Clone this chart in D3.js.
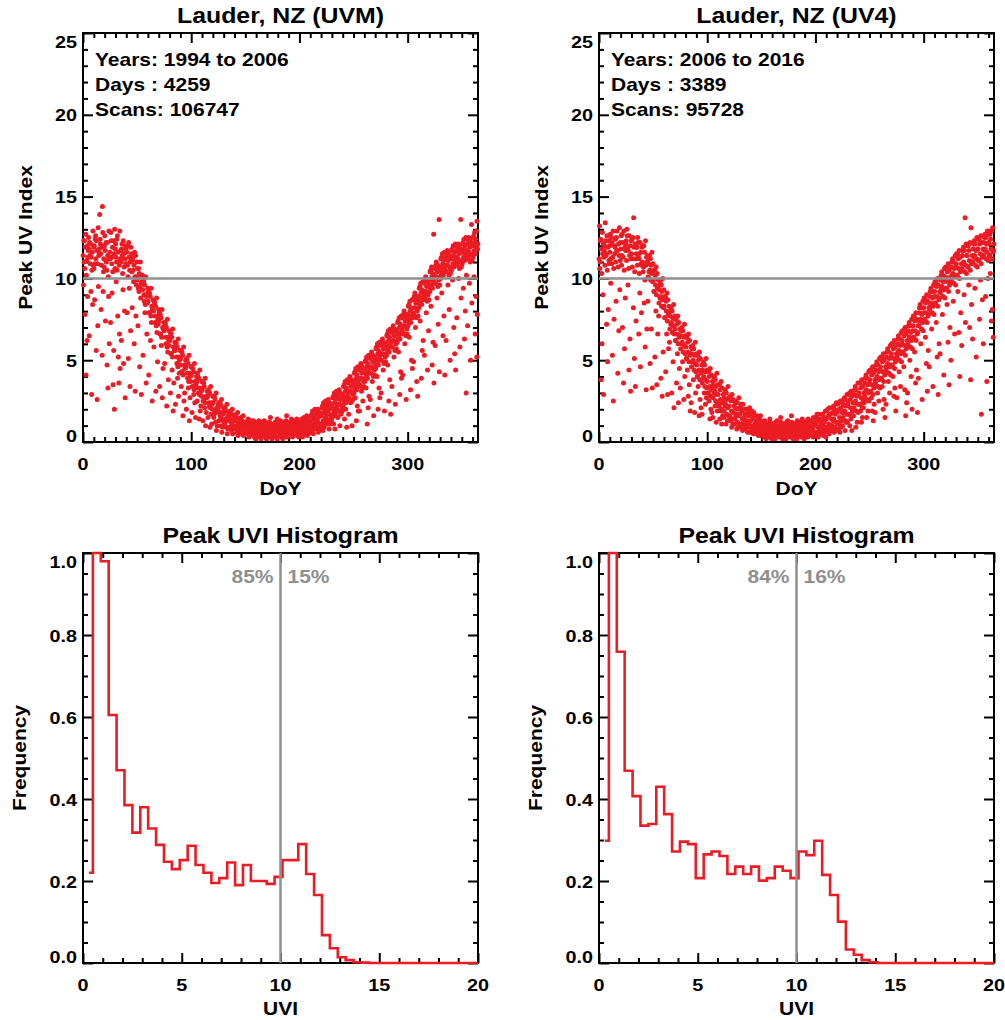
<!DOCTYPE html>
<html>
<head>
<meta charset="utf-8">
<script src="https://cdn.jsdelivr.net/npm/d3@7"></script>
<style>
  body { margin: 0; background: #fff; }
  svg text { font-family: "Liberation Sans", Arial, Helvetica, sans-serif; font-weight: bold; }
</style>
</head>
<body>
<svg id="chart"></svg>
<script>
// ---- data ----

// 5-day DoY strips; each entry of the peak arrays lists the values seen in that strip
const doyBins = d3.range(0, 365, 5);

const uvmPeak = [
  [11.4, 9.6, 12.3, 11.0, 12.3, 10.6, 7.8, 11.9, 12.7, 4.1, 10.2, 11.1, 6.2, 12.0, 8.9, 11.3, 11.7],
  [12.5, 11.8, 6.5, 12.2, 11.4, 10.9, 12.1, 9.2, 11.3, 2.9, 10.5, 11.6, 8.4, 12.9, 10.8, 11.9],
  [10.6, 12.0, 8.7, 10.9, 12.4, 12.6, 11.2, 5.6, 12.3, 11.7, 2.6, 10.9, 7.1, 13.1, 9.5, 11.4, 11.8],
  [11.5, 13.9, 12.4, 12.1, 11.5, 8.1, 10.8, 11.9, 5.3, 14.4, 12.8, 9.2, 10.4, 11.2, 10.7, 12.0],
  [12.6, 11.7, 7.4, 11.1, 12.2, 11.0, 10.5, 4.7, 12.2, 11.4, 3.3, 10.1, 8.9, 12.9, 6.0, 11.2, 11.6],
  [11.2, 7.3, 12.8, 12.3, 11.3, 10.9, 9.1, 11.9, 10.4, 3.5, 12.3, 5.6, 11.5, 2.0, 13.0, 10.6, 11.8],
  [12.1, 11.3, 9.8, 11.0, 12.4, 10.5, 12.6, 7.7, 11.6, 5.2, 11.0, 3.6, 10.8, 6.6, 12.9, 4.5, 11.2, 11.7],
  [11.0, 6.2, 11.8, 12.1, 11.4, 10.3, 9.3, 12.3, 4.8, 11.5, 10.7, 8.0, 11.2, 2.7, 12.0, 10.9, 11.8],
  [10.9, 11.6, 7.9, 10.8, 12.0, 10.1, 5.1, 12.2, 11.3, 9.4, 10.5, 3.4, 11.0, 6.8, 11.9, 11.1, 11.5],
  [10.4, 8.2, 11.1, 11.3, 10.5, 9.8, 10.8, 6.0, 11.6, 10.1, 3.1, 11.4, 7.7, 9.6, 10.1, 11.0],
  [9.9, 10.6, 7.1, 9.4, 10.6, 9.2, 10.3, 4.6, 9.5, 11.0, 8.8, 9.7, 2.9, 10.1, 9.8, 10.2],
  [9.3, 5.3, 9.9, 9.8, 9.0, 8.6, 9.6, 7.9, 8.4, 10.1, 9.0, 3.6, 8.9, 6.6, 9.0, 8.5, 9.4],
  [8.6, 9.2, 4.1, 7.9, 9.1, 7.9, 8.9, 6.2, 7.7, 9.4, 7.3, 8.3, 2.5, 8.1, 8.2, 8.7],
  [8.0, 5.8, 8.6, 8.5, 7.7, 7.3, 8.3, 3.1, 7.1, 8.8, 6.7, 7.7, 4.9, 7.5, 7.2, 8.1],
  [7.4, 7.9, 3.4, 6.6, 7.8, 6.6, 7.6, 5.9, 6.4, 8.1, 2.7, 7.0, 4.5, 6.9, 6.9, 7.3],
  [6.8, 4.8, 7.3, 7.2, 6.4, 6.0, 7.0, 2.2, 5.8, 7.5, 5.5, 6.4, 3.8, 6.2, 5.9, 6.8],
  [6.2, 6.7, 3.0, 5.4, 6.6, 5.4, 6.4, 4.4, 5.2, 6.9, 1.9, 5.8, 3.6, 5.6, 5.7, 6.1],
  [5.6, 2.3, 6.1, 6.0, 5.2, 4.8, 5.8, 3.9, 4.6, 6.3, 2.8, 5.2, 4.2, 5.0, 4.7, 5.6],
  [5.1, 5.6, 3.4, 4.3, 5.5, 4.3, 5.3, 1.6, 4.1, 5.8, 2.5, 4.7, 3.0, 4.5, 4.6, 5.0],
  [4.6, 2.0, 5.1, 5.0, 4.2, 3.9, 4.8, 3.3, 3.7, 5.3, 1.3, 4.2, 2.7, 4.0, 3.7, 4.6],
  [4.1, 4.6, 1.8, 3.4, 4.5, 3.4, 4.3, 2.9, 3.2, 4.8, 2.4, 3.7, 1.5, 3.5, 3.6, 4.0],
  [3.7, 2.5, 4.2, 4.0, 3.3, 3.0, 3.9, 1.4, 2.9, 4.4, 1.9, 3.3, 2.2, 3.1, 2.8, 3.7],
  [3.2, 3.7, 1.3, 2.5, 3.6, 2.6, 3.4, 2.1, 2.4, 3.9, 1.0, 2.8, 1.8, 2.7, 2.8, 3.1],
  [2.8, 1.5, 3.2, 3.1, 2.4, 2.2, 3.0, 0.9, 2.1, 3.4, 1.7, 2.4, 1.1, 2.3, 2.0, 2.8],
  [2.4, 2.8, 1.5, 1.7, 2.8, 1.9, 2.6, 1.2, 1.8, 3.0, 0.7, 2.1, 1.0, 2.0, 2.0, 2.3],
  [2.1, 1.3, 2.4, 2.4, 1.8, 1.6, 2.3, 1.0, 1.5, 2.6, 0.6, 1.8, 0.9, 1.7, 1.3, 2.1],
  [1.8, 2.1, 1.1, 1.2, 2.1, 1.4, 1.9, 0.9, 1.3, 2.3, 0.5, 1.5, 0.8, 1.6, 1.4, 1.7],
  [1.5, 0.9, 1.8, 1.9, 1.3, 1.2, 1.7, 0.7, 1.1, 2.0, 0.5, 1.3, 1.0, 1.4, 0.9, 1.6],
  [1.3, 1.6, 0.8, 0.8, 1.7, 1.0, 1.5, 0.6, 0.9, 1.8, 0.4, 1.2, 0.7, 1.1, 1.0, 1.3],
  [1.1, 0.6, 1.4, 1.5, 0.9, 0.8, 1.3, 0.5, 0.7, 1.6, 0.4, 1.0, 1.2, 0.9, 0.6, 1.2],
  [0.9, 1.2, 0.6, 0.6, 1.0, 1.1, 0.5, 1.4, 0.8, 0.7, 0.3, 1.0, 0.4, 1.3, 0.8],
  [0.9, 1.1, 0.6, 0.9, 0.5, 1.0, 0.5, 1.3, 0.8, 0.7, 0.3, 1.2, 0.4, 0.2, 1.1],
  [0.8, 1.1, 0.6, 0.7, 1.0, 1.0, 0.4, 1.3, 0.7, 0.9, 0.3, 1.2, 0.5, 0.2, 0.6],
  [0.8, 1.0, 0.5, 1.0, 0.6, 1.1, 0.4, 1.3, 0.7, 0.9, 0.3, 1.2, 0.6, 0.2, 0.8],
  [0.8, 1.0, 0.6, 0.6, 0.9, 0.9, 0.4, 1.2, 0.7, 1.5, 0.3, 1.1, 0.5, 0.2, 1.0],
  [0.7, 1.0, 0.5, 0.9, 0.6, 0.9, 0.4, 1.2, 0.8, 0.6, 0.3, 1.1, 0.2, 1.4, 1.1],
  [0.8, 1.0, 0.6, 0.6, 1.0, 0.9, 0.4, 1.3, 0.7, 1.1, 0.3, 1.2, 0.5, 0.2, 0.8],
  [0.8, 1.1, 0.6, 1.0, 0.6, 1.0, 0.4, 1.3, 0.7, 1.6, 0.3, 1.2, 0.5, 0.9, 0.9],
  [0.9, 1.1, 0.6, 0.7, 1.1, 1.0, 0.5, 1.4, 0.8, 1.2, 0.3, 0.7, 1.3, 0.4, 0.9],
  [0.9, 1.2, 0.7, 1.0, 0.7, 1.1, 0.5, 1.4, 0.8, 1.3, 0.4, 1.0, 0.6, 0.3, 1.2],
  [0.9, 0.5, 1.2, 0.6, 1.2, 0.4, 0.7, 1.4, 1.0, 0.3, 0.6, 1.1, 0.5, 0.8, 1.5, 0.8, 1.0],
  [1.2, 0.5, 0.6, 1.4, 0.8, 1.6, 0.8, 0.4, 1.1, 1.4, 0.5, 0.7, 1.3, 0.9, 0.6, 1.2],
  [1.2, 0.7, 1.6, 0.8, 1.7, 0.6, 1.0, 1.9, 1.4, 0.5, 0.8, 1.5, 0.9, 1.1, 2.0, 1.0, 1.3],
  [1.7, 0.8, 0.9, 1.9, 1.3, 2.0, 1.2, 0.6, 1.5, 1.8, 0.7, 1.0, 1.8, 1.1, 0.9, 1.6],
  [1.6, 1.0, 2.1, 1.1, 2.2, 0.7, 1.3, 2.4, 1.8, 0.9, 1.1, 2.0, 1.2, 1.5, 2.5, 1.4, 1.7],
  [2.2, 1.1, 1.3, 2.4, 1.8, 2.6, 1.7, 0.8, 2.0, 2.4, 1.1, 1.4, 2.3, 1.5, 1.3, 2.1],
  [2.2, 1.5, 2.7, 1.7, 2.8, 1.1, 1.9, 3.0, 2.4, 0.8, 1.7, 2.6, 1.6, 2.1, 3.1, 2.0, 2.3],
  [2.8, 1.5, 1.9, 3.0, 2.3, 3.2, 2.3, 1.0, 2.6, 3.0, 1.7, 1.8, 2.9, 2.1, 1.9, 2.7],
  [2.9, 2.2, 3.4, 2.4, 3.5, 1.4, 2.6, 3.7, 3.1, 2.0, 2.4, 3.3, 0.9, 2.8, 3.8, 2.6, 3.0],
  [3.6, 1.7, 2.7, 3.8, 3.1, 4.0, 3.1, 2.4, 3.4, 3.8, 2.5, 1.0, 3.7, 2.9, 2.6, 3.5],
  [3.7, 3.0, 4.2, 3.2, 4.3, 2.7, 3.4, 4.5, 3.9, 1.3, 3.2, 4.1, 2.2, 3.6, 4.6, 1.9, 3.4, 3.8],
  [4.4, 1.9, 3.5, 4.6, 3.9, 4.8, 3.9, 3.1, 4.2, 4.6, 3.3, 2.5, 4.5, 3.7, 3.4, 4.3],
  [4.4, 3.7, 4.9, 3.9, 5.0, 3.3, 4.1, 5.2, 4.6, 1.1, 3.9, 4.8, 2.1, 4.3, 5.3, 2.8, 4.2, 4.5],
  [5.1, 2.6, 4.2, 5.3, 4.6, 5.5, 4.6, 3.7, 4.9, 5.3, 4.0, 1.6, 5.2, 4.4, 4.1, 5.0],
  [5.2, 4.5, 5.7, 4.7, 5.8, 4.0, 4.9, 6.0, 5.4, 2.0, 4.7, 5.6, 3.3, 5.1, 6.1, 2.7, 5.0, 5.3],
  [5.9, 3.0, 5.0, 6.1, 5.4, 6.3, 5.4, 4.4, 5.7, 6.1, 4.8, 1.9, 6.0, 5.2, 4.9, 5.8],
  [6.0, 5.3, 6.5, 5.5, 6.6, 4.7, 5.7, 6.8, 6.2, 2.5, 5.5, 6.4, 3.8, 5.9, 6.9, 1.7, 5.8, 6.1],
  [6.7, 3.4, 5.8, 6.9, 6.2, 7.1, 6.2, 5.2, 6.5, 6.9, 5.6, 2.3, 6.8, 6.0, 5.7, 6.6],
  [6.8, 6.1, 7.3, 6.3, 7.4, 5.5, 6.5, 7.6, 7.0, 2.9, 6.3, 7.2, 4.3, 6.7, 7.7, 3.9, 6.6, 6.9],
  [7.6, 4.1, 6.7, 7.8, 7.1, 8.0, 7.1, 6.0, 7.4, 7.8, 6.5, 2.6, 7.7, 6.9, 6.6, 7.5],
  [7.8, 7.1, 8.3, 7.3, 8.4, 6.4, 7.5, 8.6, 8.0, 3.2, 7.3, 8.2, 5.0, 7.7, 8.7, 4.5, 7.6, 7.9],
  [8.7, 4.9, 7.8, 8.9, 8.2, 9.1, 8.2, 7.0, 8.5, 8.9, 7.6, 3.7, 8.8, 8.0, 2.8, 7.7, 8.6],
  [8.9, 8.2, 9.4, 8.4, 9.5, 7.4, 8.6, 9.7, 9.1, 3.9, 8.4, 9.3, 5.6, 8.8, 9.8, 6.2, 8.7, 9.0],
  [9.7, 5.3, 8.8, 9.9, 9.2, 10.1, 9.2, 7.9, 9.5, 9.9, 8.6, 4.4, 9.8, 9.0, 6.8, 8.7, 9.6],
  [9.9, 9.2, 10.4, 9.4, 10.5, 8.3, 9.6, 10.7, 10.1, 4.7, 9.4, 10.3, 6.1, 9.8, 12.7, 3.6, 9.7, 10.0],
  [10.6, 5.9, 9.7, 10.8, 10.1, 11.0, 10.1, 8.8, 10.4, 10.8, 9.5, 7.2, 10.7, 9.9, 13.6, 4.3, 9.6, 10.5],
  [10.7, 10.0, 11.2, 10.2, 11.3, 9.1, 10.4, 11.5, 10.9, 6.5, 10.2, 11.1, 7.7, 10.6, 11.6, 4.1, 10.5, 10.8],
  [11.3, 6.2, 10.4, 11.5, 10.8, 11.7, 10.8, 9.6, 11.1, 11.5, 10.2, 8.1, 11.4, 10.6, 5.0, 10.3, 11.2],
  [11.2, 10.5, 11.7, 10.7, 11.8, 9.9, 10.9, 12.0, 11.4, 7.0, 10.7, 11.6, 5.4, 11.1, 12.1, 4.4, 11.0, 11.3],
  [11.7, 7.6, 10.8, 11.9, 11.2, 12.1, 11.2, 10.0, 11.5, 11.9, 10.6, 5.8, 11.8, 11.0, 13.6, 8.8, 10.7, 11.6],
  [11.6, 10.9, 12.1, 11.1, 12.2, 9.4, 11.3, 12.4, 11.8, 6.3, 11.1, 12.0, 8.0, 11.5, 12.5, 3.0, 10.2, 11.4, 11.7],
  [12.1, 7.1, 11.2, 12.3, 11.6, 12.5, 11.6, 9.7, 11.9, 12.3, 11.0, 5.0, 12.2, 11.4, 13.3, 8.5, 11.1, 12.0],
  [12.0, 11.3, 12.5, 11.5, 12.6, 10.1, 11.7, 12.8, 12.2, 6.6, 11.5, 12.4, 8.9, 11.9, 12.9, 5.2, 13.5, 7.8, 11.8, 12.1]
];

const uv4Peak = [
  [11.2, 13.2, 10.6, 11.0, 12.3, 12.4, 3.8, 11.8, 10.3, 6.0, 12.8, 11.5, 9.0, 12.1, 2.9, 11.3, 11.7],
  [12.0, 10.8, 13.4, 12.3, 11.5, 11.4, 7.2, 12.6, 10.5, 4.9, 11.9, 8.1, 12.3, 11.1, 10.9, 12.0],
  [11.6, 12.7, 9.7, 11.2, 12.5, 10.9, 12.2, 5.3, 11.3, 12.9, 2.5, 10.6, 7.5, 12.0, 11.5, 11.9],
  [12.4, 11.0, 8.6, 12.5, 11.7, 12.9, 11.7, 4.2, 10.7, 12.1, 6.8, 11.4, 13.1, 9.3, 11.1, 12.2],
  [11.8, 12.6, 10.8, 11.4, 12.7, 7.0, 12.2, 11.3, 3.6, 12.9, 10.5, 5.7, 11.9, 8.8, 11.7, 12.1],
  [12.3, 11.1, 13.0, 12.6, 11.8, 9.6, 11.7, 10.6, 4.4, 12.6, 11.4, 6.3, 12.0, 3.1, 11.2, 12.3],
  [11.5, 12.4, 10.7, 11.2, 12.5, 8.2, 13.7, 11.9, 5.1, 10.4, 12.1, 3.4, 11.2, 7.4, 11.5, 11.9],
  [11.9, 10.8, 12.5, 12.2, 11.4, 6.6, 11.2, 10.3, 9.1, 12.2, 4.6, 11.6, 10.9, 7.9, 10.8, 11.9],
  [11.0, 12.0, 10.4, 10.7, 12.0, 8.5, 11.6, 9.9, 5.8, 12.3, 10.8, 3.2, 11.3, 6.9, 11.0, 11.4],
  [8.6, 10.1, 10.9, 11.2, 10.4, 11.4, 10.5, 4.8, 11.2, 9.9, 10.8, 6.9, 10.3, 11.6, 3.3, 9.8, 10.9],
  [9.9, 10.5, 9.2, 9.2, 10.5, 5.2, 10.2, 9.6, 8.0, 10.7, 9.0, 3.5, 10.3, 9.4, 6.6, 9.5, 9.9],
  [7.7, 8.5, 9.3, 9.6, 8.8, 9.8, 8.9, 3.9, 9.6, 8.3, 9.2, 2.8, 8.7, 10.0, 5.5, 8.2, 9.3],
  [8.3, 8.9, 7.6, 7.6, 8.9, 4.3, 8.6, 8.0, 6.6, 9.1, 7.4, 2.9, 8.7, 7.8, 5.7, 7.9, 8.3],
  [6.1, 6.9, 7.7, 8.0, 7.2, 8.2, 7.3, 3.0, 8.0, 6.7, 7.6, 4.9, 7.1, 8.4, 2.1, 6.6, 7.7],
  [6.9, 7.5, 6.2, 6.2, 7.5, 3.6, 7.2, 6.6, 5.4, 7.7, 6.0, 2.4, 7.3, 6.4, 4.5, 6.5, 6.9],
  [3.3, 5.7, 6.5, 6.8, 6.0, 7.0, 6.1, 4.9, 6.8, 5.5, 6.4, 2.6, 5.9, 7.2, 4.0, 5.4, 6.5],
  [5.8, 6.4, 5.1, 5.1, 6.4, 4.4, 6.1, 5.5, 2.8, 6.6, 4.9, 3.5, 6.2, 5.3, 1.9, 5.4, 5.8],
  [2.4, 4.6, 5.4, 5.7, 4.9, 5.9, 5.0, 3.8, 5.7, 4.4, 5.3, 1.8, 4.8, 6.1, 3.0, 4.3, 5.4],
  [4.7, 5.3, 4.0, 4.0, 5.3, 3.4, 5.0, 4.4, 1.6, 5.5, 3.8, 2.6, 5.1, 4.2, 2.1, 4.3, 4.7],
  [1.7, 3.6, 4.4, 4.7, 3.9, 4.9, 4.0, 3.0, 4.7, 3.4, 4.3, 2.3, 3.8, 5.1, 2.7, 3.3, 4.4],
  [3.7, 4.3, 3.0, 3.0, 4.3, 2.5, 4.0, 3.4, 1.4, 4.5, 2.8, 2.0, 4.1, 3.2, 1.8, 3.3, 3.7],
  [1.5, 2.7, 3.5, 3.8, 3.0, 4.0, 3.1, 2.2, 3.8, 2.5, 3.4, 1.2, 2.9, 4.2, 1.9, 2.4, 3.5],
  [2.9, 3.5, 2.2, 2.2, 3.5, 1.4, 3.2, 2.6, 1.9, 3.7, 2.0, 1.1, 3.3, 2.4, 1.6, 2.5, 2.9],
  [1.5, 1.9, 2.7, 3.0, 2.2, 3.2, 2.3, 1.1, 3.0, 1.7, 2.6, 1.3, 2.1, 3.4, 1.6, 2.7],
  [2.2, 2.7, 1.6, 1.5, 2.8, 1.3, 2.5, 1.9, 0.9, 2.9, 1.4, 1.1, 2.6, 1.8, 1.8, 2.2],
  [1.1, 1.4, 2.1, 2.4, 1.6, 2.5, 1.7, 0.8, 2.4, 1.2, 2.0, 0.9, 1.6, 2.7, 1.0, 2.1],
  [1.7, 2.1, 1.1, 1.0, 2.3, 0.9, 1.9, 1.4, 0.7, 2.3, 1.0, 1.2, 2.0, 1.5, 1.3, 1.7],
  [0.8, 1.0, 1.7, 2.0, 1.2, 2.0, 1.3, 0.6, 1.9, 0.9, 1.6, 1.1, 1.2, 2.1, 0.6, 1.7],
  [1.3, 1.7, 0.8, 0.6, 1.9, 0.7, 1.5, 1.0, 0.5, 1.8, 0.9, 0.6, 1.6, 1.1, 0.9, 1.3],
  [0.5, 0.7, 1.2, 1.6, 0.8, 1.5, 0.9, 0.4, 1.4, 0.6, 1.1, 0.8, 1.0, 1.6, 0.4, 1.3],
  [0.8, 1.2, 0.6, 0.6, 1.0, 0.4, 1.0, 0.7, 0.3, 1.3, 0.9, 0.5, 1.1, 0.2, 0.8],
  [0.7, 1.1, 0.5, 0.9, 0.5, 0.3, 0.9, 0.6, 1.4, 1.2, 0.8, 0.4, 1.0, 0.2, 1.1],
  [0.8, 1.1, 0.5, 0.7, 1.0, 0.3, 1.0, 0.6, 0.2, 1.2, 0.9, 0.4, 0.7, 1.3, 0.6],
  [0.7, 1.0, 0.5, 1.0, 0.6, 0.3, 0.9, 0.6, 1.5, 1.2, 0.8, 0.4, 1.1, 0.2, 0.8],
  [0.7, 1.0, 0.5, 0.6, 0.9, 0.3, 0.9, 0.6, 0.2, 1.2, 0.8, 0.4, 1.1, 1.3, 1.0],
  [0.8, 1.1, 0.5, 0.9, 0.6, 0.3, 0.9, 0.6, 1.6, 1.2, 0.7, 0.4, 1.0, 0.2, 1.1],
  [0.8, 1.1, 0.6, 0.6, 1.0, 0.3, 1.0, 0.7, 0.2, 1.3, 0.9, 0.4, 1.2, 0.5, 0.8],
  [0.8, 1.2, 0.6, 1.0, 0.6, 0.3, 1.0, 0.7, 1.4, 1.3, 0.9, 0.4, 1.1, 0.2, 0.9],
  [0.9, 1.2, 0.6, 0.7, 1.1, 0.4, 1.1, 0.7, 0.3, 1.4, 1.0, 0.5, 1.3, 0.8, 0.9],
  [0.9, 1.3, 0.7, 1.0, 0.7, 0.4, 1.1, 0.8, 0.3, 1.5, 1.0, 0.5, 1.2, 0.6, 1.2],
  [1.1, 1.5, 0.6, 0.4, 1.7, 0.4, 1.3, 0.9, 0.3, 1.7, 0.5, 0.7, 1.4, 0.8, 0.7, 1.1],
  [0.5, 0.8, 1.3, 1.7, 0.9, 1.7, 1.0, 0.4, 1.5, 0.7, 1.2, 0.6, 0.9, 1.9, 0.3, 1.4],
  [1.4, 1.9, 0.9, 0.7, 2.0, 0.6, 1.6, 1.1, 0.5, 2.1, 0.8, 0.7, 1.7, 1.0, 1.0, 1.4],
  [0.7, 1.0, 1.8, 2.1, 1.3, 2.2, 1.4, 0.6, 2.0, 0.9, 1.7, 0.8, 1.2, 2.4, 0.7, 1.8],
  [1.8, 2.3, 1.2, 1.1, 2.4, 0.8, 2.0, 1.5, 0.6, 2.5, 1.0, 0.9, 2.1, 1.3, 1.4, 1.8],
  [1.0, 1.5, 2.3, 2.6, 1.8, 2.7, 1.9, 0.7, 2.6, 1.3, 2.2, 1.2, 1.7, 2.9, 1.2, 2.3],
  [2.4, 2.9, 1.7, 1.7, 3.0, 1.0, 2.6, 2.1, 1.4, 3.1, 1.6, 0.7, 2.8, 1.9, 2.0, 2.4],
  [1.6, 2.1, 2.9, 3.2, 2.4, 3.4, 2.5, 0.9, 3.2, 1.9, 2.8, 1.2, 2.3, 3.6, 1.8, 2.9],
  [3.0, 3.6, 2.3, 2.3, 3.6, 1.9, 3.3, 2.7, 1.2, 3.8, 2.1, 1.5, 3.4, 2.5, 2.1, 2.6, 3.0],
  [2.4, 2.8, 3.6, 3.9, 3.1, 4.1, 3.2, 1.5, 3.9, 2.6, 3.5, 1.9, 3.0, 4.3, 2.5, 3.6],
  [3.8, 4.4, 3.1, 3.1, 4.4, 2.7, 4.1, 3.5, 1.9, 4.6, 2.9, 1.3, 4.2, 3.3, 2.3, 3.4, 3.8],
  [1.8, 3.6, 4.4, 4.7, 3.9, 4.9, 4.0, 3.0, 4.7, 3.4, 4.3, 2.5, 3.8, 5.1, 3.3, 4.4],
  [4.6, 5.2, 3.9, 3.9, 5.2, 3.4, 4.9, 4.3, 2.0, 5.4, 3.7, 2.6, 5.0, 4.1, 1.5, 4.2, 4.6],
  [2.3, 4.4, 5.2, 5.5, 4.7, 5.7, 4.8, 3.7, 5.5, 4.2, 5.1, 3.0, 4.6, 5.9, 4.1, 5.2],
  [5.4, 6.0, 4.7, 4.7, 6.0, 4.0, 5.7, 5.1, 2.8, 6.2, 4.5, 3.3, 5.8, 4.9, 1.9, 5.0, 5.4],
  [2.7, 5.2, 6.0, 6.3, 5.5, 6.5, 5.6, 4.3, 6.3, 5.0, 5.9, 3.4, 5.4, 6.7, 4.9, 6.0],
  [6.2, 6.8, 5.5, 5.5, 6.8, 4.6, 6.5, 5.9, 3.2, 7.0, 5.3, 1.6, 6.6, 5.7, 2.4, 5.8, 6.2],
  [3.0, 6.0, 6.8, 7.1, 6.3, 7.3, 6.4, 5.0, 7.1, 5.8, 6.7, 4.0, 6.2, 7.5, 2.0, 5.7, 6.8],
  [7.1, 7.7, 6.4, 6.4, 7.7, 5.5, 7.4, 6.8, 3.6, 7.9, 6.2, 4.4, 7.5, 6.6, 1.8, 6.7, 7.1],
  [3.9, 7.1, 7.9, 8.2, 7.4, 8.4, 7.5, 6.0, 8.2, 6.9, 7.8, 2.6, 7.3, 8.6, 6.8, 7.9],
  [8.2, 8.8, 7.5, 7.5, 8.8, 6.4, 8.5, 7.9, 4.8, 9.0, 7.3, 3.1, 8.6, 7.7, 5.6, 7.8, 8.2],
  [4.6, 8.1, 8.9, 9.2, 8.4, 9.4, 8.5, 6.9, 9.2, 7.9, 8.8, 3.4, 8.3, 9.6, 7.8, 8.9],
  [9.2, 9.8, 8.5, 8.5, 9.8, 7.3, 9.5, 8.9, 5.2, 10.0, 8.3, 2.9, 9.6, 8.7, 6.0, 8.8, 9.2],
  [5.4, 9.1, 9.9, 10.2, 9.4, 10.4, 9.5, 7.8, 10.2, 8.9, 9.8, 4.1, 9.3, 10.6, 8.8, 9.9],
  [10.1, 10.7, 9.4, 9.4, 10.7, 8.4, 10.4, 9.8, 6.1, 10.9, 9.2, 3.5, 10.5, 9.6, 7.0, 9.7, 10.1],
  [5.0, 9.9, 10.7, 11.0, 10.2, 11.2, 10.3, 8.6, 11.0, 9.7, 10.6, 6.6, 10.1, 11.4, 9.6, 10.7],
  [10.9, 11.5, 10.2, 10.2, 11.5, 9.2, 11.2, 10.6, 6.7, 11.7, 10.0, 4.0, 11.3, 10.4, 7.9, 10.5, 10.9],
  [5.9, 10.6, 11.4, 11.7, 10.9, 11.9, 11.0, 9.0, 11.7, 10.4, 13.7, 7.3, 10.8, 12.1, 10.3, 11.4],
  [11.4, 12.0, 10.7, 10.7, 12.0, 9.6, 11.7, 11.1, 7.0, 12.2, 10.5, 3.8, 13.1, 10.9, 8.4, 11.0, 11.4],
  [6.3, 11.0, 11.8, 12.1, 11.3, 12.3, 11.4, 9.4, 12.1, 10.8, 11.7, 5.2, 11.2, 12.5, 10.7, 11.8],
  [11.8, 12.4, 11.1, 11.1, 12.4, 7.5, 12.1, 11.5, 9.9, 12.6, 10.9, 1.7, 12.2, 11.3, 8.7, 11.4, 11.8],
  [6.0, 11.4, 12.2, 12.5, 11.7, 12.7, 11.8, 8.9, 12.5, 11.2, 12.1, 3.7, 11.6, 12.9, 10.0, 11.1, 12.2],
  [12.1, 12.7, 11.4, 11.4, 12.7, 10.3, 12.4, 11.8, 7.4, 12.9, 11.2, 8.1, 13.1, 11.6, 6.4, 11.7, 12.1]
];

// histogram: bin centres every 0.4 UVI starting at 0.3
const uviBins = d3.range(0.3, 20.4, 0.4);
const uvmFreq = [
  0.22, 1.0, 0.98, 0.605, 0.47, 0.385, 0.318, 0.38, 0.328, 0.288,
  0.247, 0.229, 0.251, 0.286, 0.239, 0.22, 0.195, 0.207, 0.245, 0.19,
  0.239, 0.2, 0.2, 0.193, 0.21, 0.251, 0.251, 0.29, 0.217, 0.166,
  0.068, 0.036, 0.014, 0.007, 0.002, 0.001, 0, 0, 0, 0,
  0, 0, 0, 0, 0, 0, 0, 0, 0, 0, 0
];
const uv4Freq = [
  0.298, 1.0, 0.759, 0.469, 0.407, 0.335, 0.339, 0.43, 0.363, 0.272,
  0.296, 0.29, 0.207, 0.265, 0.272, 0.261, 0.217, 0.235, 0.217, 0.235,
  0.201, 0.207, 0.235, 0.225, 0.207, 0.272, 0.263, 0.298, 0.215, 0.166,
  0.101, 0.033, 0.02, 0.007, 0.002, 0, 0, 0, 0, 0,
  0, 0, 0, 0, 0, 0, 0, 0, 0, 0, 0
];

const uvmInfo = ["Years: 1994 to 2006", "Days : 4259", "Scans: 106747"];
const uv4Info = ["Years: 2006 to 2016", "Days : 3389", "Scans: 95728"];
const uvmSplit = ["85%", "15%"];
const uv4Split = ["84%", "16%"];

const doyMajor = [0, 100, 200, 300];
const doyMinor = d3.range(0, 361, 10);
const peakMajor = [0, 5, 10, 15, 20, 25];
const peakMinor = d3.range(0, 26, 1);
const uviMajor = [0, 5, 10, 15, 20];
const uviMinor = d3.range(0, 21, 1);
const freqMajor = [0, 0.2, 0.4, 0.6, 0.8, 1.0];
const freqMinor = d3.range(0, 1.001, 0.05);

// ---- drawing ----
const RED = "#ec1c24", GREY = "#8f8f8f";
const svg = d3.select("#chart").attr("width", 1005).attr("height", 1020);

// text helper: IDL's Helvetica comes out wider than Liberation Sans
function label(g, x, y, str, o = {}) {
  return g.append("text")
    .attr("transform", `translate(${x},${y})${o.rotate ? ` rotate(${o.rotate})` : ""} scale(${o.sx || 1.2},1)`)
    .attr("text-anchor", o.anchor || "start")
    .style("font-size", (o.size || 17.5) + "px")
    .attr("fill", o.fill || "#000")
    .text(str);
}

function frame(g, x, y, xMaj, xMin, yMaj, yMin, xFmt, yFmt) {
  const [x0, x1] = x.range(), [y1, y0] = y.range();
  const ticks = (axis, t, vals, len) => g.append("g")
    .attr("transform", t)
    .call(axis.tickValues(vals).tickSize(-len).tickFormat(""))
    .call(s => s.select(".domain").remove())
    .selectAll("line").attr("stroke", "#000").attr("stroke-width", 2);
  const xm = xMin.filter(v => !xMaj.includes(v)), ym = yMin.filter(v => !yMaj.some(m => Math.abs(m - v) < 1e-6));
  ticks(d3.axisBottom(x), `translate(0,${y1})`, xMaj, 10);
  ticks(d3.axisBottom(x), `translate(0,${y1})`, xm, 5);
  ticks(d3.axisTop(x), `translate(0,${y0})`, xMaj, 10);
  ticks(d3.axisTop(x), `translate(0,${y0})`, xm, 5);
  ticks(d3.axisLeft(y), `translate(${x0},0)`, yMaj, 10);
  ticks(d3.axisLeft(y), `translate(${x0},0)`, ym, 5);
  ticks(d3.axisRight(y), `translate(${x1},0)`, yMaj, 10);
  ticks(d3.axisRight(y), `translate(${x1},0)`, ym, 5);
  g.append("rect").attr("x", x0).attr("y", y0).attr("width", x1 - x0).attr("height", y1 - y0)
    .attr("fill", "none").attr("stroke", "#000").attr("stroke-width", 2);

  xMaj.forEach(v => label(g, x(v), y1 + 28, xFmt(v), { anchor: "middle", size: 16.5 }));
  yMaj.forEach((v, i) => {
    let by = y(v) + 6.5;
    if (i === 0) by = y1;                    // bottom label sits on the axis
    if (i === yMaj.length - 1) by = y0 + 15; // top label pulled inside
    label(g, x0 - 6, by, yFmt(v), { anchor: "end", size: 16.5 });
  });
}

function scatterPanel(box, title, info, peaks) {
  const g = svg.append("g");
  const x = d3.scaleLinear().domain([0, 365]).range([box.x0, box.x1]);
  const y = d3.scaleLinear().domain([0, 25]).range([box.y1, box.y0]);
  frame(g, x, y, doyMajor, doyMinor, peakMajor, peakMinor, d3.format("d"), d3.format("d"));

  const pts = [];
  peaks.forEach((vals, i) => vals.forEach((v, j) => pts.push([doyBins[i] + (j + 0.5) * 5 / vals.length, v])));
  g.append("g").selectAll("circle").data(pts).join("circle")
    .attr("cx", d => x(d[0])).attr("cy", d => y(d[1])).attr("r", 2.5).attr("fill", RED);

  g.append("line").attr("x1", box.x0).attr("x2", box.x1).attr("y1", y(10)).attr("y2", y(10))
    .attr("stroke", GREY).attr("stroke-width", 2.5);

  const mid = (box.x0 + box.x1) / 2;
  label(g, mid, box.y0 - 10, title, { anchor: "middle", size: 22, sx: 1.13 });
  info.forEach((t, i) => label(g, box.x0 + 12, box.y0 + 33 + i * 25, t));
  label(g, mid, box.y1 + 53, "DoY", { anchor: "middle" });
  label(g, box.x0 - 51, (box.y0 + box.y1) / 2, "Peak UV Index", { anchor: "middle", rotate: -90 });
}

function histPanel(box, freq, split, id) {
  const g = svg.append("g");
  const x = d3.scaleLinear().domain([0, 20]).range([box.x0, box.x1]);
  const y = d3.scaleLinear().domain([0, 1]).range([box.y1, box.y0]);
  frame(g, x, y, uviMajor, uviMinor, freqMajor, freqMinor, d3.format("d"), d3.format(".1f"));

  svg.append("clipPath").attr("id", id).append("rect")
    .attr("x", box.x0).attr("y", box.y0 - 4).attr("width", box.x1 - box.x0).attr("height", box.y1 - box.y0 + 8);
  const line = d3.line().x((d, i) => x(uviBins[i])).y(d => y(d)).curve(d3.curveStep);
  g.append("path").datum(freq).attr("d", line).attr("clip-path", `url(#${id})`)
    .attr("fill", "none").attr("stroke", RED).attr("stroke-width", 2.6);

  g.append("line").attr("x1", x(10)).attr("x2", x(10)).attr("y1", box.y0).attr("y2", box.y1)
    .attr("stroke", GREY).attr("stroke-width", 2.5);
  label(g, x(10) - 7, box.y0 + 30, split[0], { anchor: "end", fill: GREY });
  label(g, x(10) + 7, box.y0 + 30, split[1], { fill: GREY });

  const mid = (box.x0 + box.x1) / 2;
  label(g, mid, box.y0 - 10, "Peak UVI Histogram", { anchor: "middle", size: 22, sx: 1.13 });
  label(g, mid, box.y1 + 52, "UVI", { anchor: "middle" });
  label(g, box.x0 - 57, (box.y0 + box.y1) / 2, "Frequency", { anchor: "middle", rotate: -90 });
}

scatterPanel({ x0: 83, x1: 478, y0: 33, y1: 442 }, "Lauder, NZ (UVM)", uvmInfo, uvmPeak);
scatterPanel({ x0: 599, x1: 994, y0: 33, y1: 442 }, "Lauder, NZ (UV4)", uv4Info, uv4Peak);
histPanel({ x0: 83, x1: 478, y0: 553, y1: 963 }, uvmFreq, uvmSplit, "clipA");
histPanel({ x0: 599, x1: 994, y0: 553, y1: 963 }, uv4Freq, uv4Split, "clipB");
</script>
</body>
</html>
